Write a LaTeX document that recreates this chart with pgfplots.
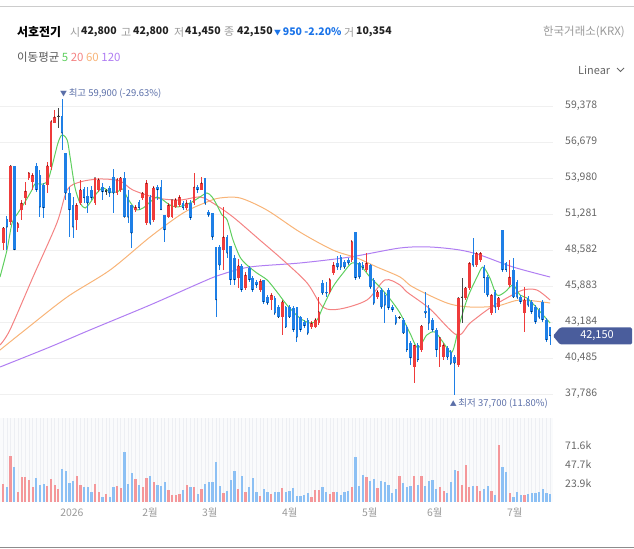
\documentclass[border=0pt]{standalone}
\usepackage{pgfplots}
\pgfplotsset{compat=1.18}
\usepackage{pgfplotstable}
\usepackage{fontspec}
\setmainfont{Noto Sans CJK KR}

\definecolor{upc}{HTML}{EF3B3B}
\definecolor{dnc}{HTML}{1E7FE6}
\definecolor{dojc}{HTML}{444444}
\definecolor{vup}{HTML}{F4979A}
\definecolor{vdn}{HTML}{8CC0F4}
\definecolor{maG}{HTML}{5FCF5F}
\definecolor{maR}{HTML}{F48383}
\definecolor{maO}{HTML}{F8B478}
\definecolor{maP}{HTML}{B07EF2}
\definecolor{gridc}{HTML}{F0F0F0}
\definecolor{tickc}{HTML}{666666}
\definecolor{labc}{HTML}{9A9A9A}
\definecolor{annc}{HTML}{5B6FA8}
\definecolor{boxc}{HTML}{4A5D9C}
\definecolor{chgc}{HTML}{1A73E8}
\definecolor{volbg}{HTML}{FAFBFC}
\definecolor{volgrid}{HTML}{EDEFF3}
\definecolor{numc}{HTML}{222222}

\pgfplotsset{
  wick/.style={only marks, mark=*, mark size=0.1pt, mark options={draw=none, fill=none}, forget plot,
    error bars/y dir=both, error bars/y explicit, error bars/error mark=none,
    error bars/error bar style={line width=1bp, color=#1}},
  cbody/.style={only marks, mark=*, mark size=0.1pt, mark options={draw=none, fill=none}, forget plot,
    error bars/y dir=both, error bars/y explicit, error bars/error mark=none,
    error bars/error bar style={line width=2.7bp, color=#1}},
}

% rising candles (red)
\pgfplotstableread{
i O H L C V
0 49100 50300 48600 50250 22600
2 50700 54900 50450 54900 58100
4 50250 50700 49950 50550 12000
5 51600 52350 50850 52100 31200
6 52500 53700 51950 53000 31200
7 54000 54450 53850 54350 27800
8 53700 54350 53100 54200 18400
12 53450 55200 52850 54900 20500
13 54800 58350 54600 58200 28600
14 58100 59100 58100 58550 21800
20 50850 52100 50100 51950 33300
21 52100 53850 51950 53100 21400
25 52100 54000 51950 54000 22600
26 53100 54000 52950 53850 12000
31 52850 54000 52700 53850 20500
32 53100 54050 52950 54000 17100
36 51600 51950 51450 51800 29000
38 52500 52950 52350 52850 18400
39 50600 53850 50450 53600 30300
41 50850 53400 50700 53250 24800
45 51050 52100 51000 51950 14900
46 51050 52350 51000 52350 8500
47 51800 52500 51750 52350 8500
48 51950 52700 51800 52550 9800
50 51750 52350 51600 52100 21400
52 52100 54350 51950 53300 18400
54 53100 54050 53100 53600 16200
60 48600 51800 47100 49550 10700
64 46500 47900 45750 47400 16200
66 45750 46950 45600 46700 12800
70 45600 46400 45450 46250 7700
73 44850 45350 44100 45200 9800
76 43550 44850 42200 44700 17100
84 42800 43250 42650 43100 6400
85 42800 43500 42750 43350 14900
86 43100 45050 42950 43950 14900
89 45450 46500 45300 46350 9800
90 46850 47700 46700 47450 12800
95 47850 49350 47700 49200 19200
99 47100 48350 46950 47600 31200
102 45050 45600 44900 45450 17100
112 39800 41450 38600 41450 32500
114 41100 42950 40950 42900 33300
119 41300 42050 39800 42000 18400
120 40550 41600 40350 41450 14100
124 39950 45000 39800 45000 38400
126 45000 45800 44850 45750 47000
127 45750 47700 45600 47600 18400
129 47450 48450 47300 48350 20500
130 47850 48450 47700 48350 14100
133 43850 45300 43700 45200 14100
135 44300 45050 44100 45000 71700
138 45950 47850 45800 46550 10700
142 43850 45800 42450 44850 9400
}\upT

% falling candles (blue)
\pgfplotstableread{
i O H L C V
1 50900 51150 48600 50300 19200
3 54900 54900 48600 48600 44000
9 54900 55100 52950 53100 29900
10 54200 54600 51050 51800 21400
11 53450 53600 51000 51750 22600
16 58650 59900 56100 57350 41800
17 55850 55850 52350 52850 38400
18 52850 53300 49550 51600 23900
19 51950 52550 49500 50300 26500
22 53150 53300 52100 52500 18400
23 52650 53300 51350 52100 18800
24 53100 53400 52350 52500 12000
27 53300 53600 52350 52950 6800
29 53250 53400 52550 52850 6400
30 54050 54650 51350 52850 18400
33 54000 54450 51050 51050 62300
34 52550 53100 50600 51050 22600
35 51950 51950 48750 49850 36700
37 52200 52350 51600 51750 21400
40 52550 52700 50450 50600 32500
42 53300 53450 52350 53100 21400
43 53300 53850 51600 51600 20500
44 51200 51200 49200 50100 24800
49 52100 52250 51600 51750 14900
51 52100 52350 50850 51000 18400
53 53300 53450 52850 53100 9800
55 54000 54000 51950 52100 22600
56 51450 51600 51050 51200 24800
57 51350 51350 49350 49550 25200
58 48800 48800 43550 44850 50400
59 48800 48950 47100 47450 20500
61 49550 49700 48000 48350 14100
62 48900 48900 45950 46350 27800
63 48000 48200 45950 46350 38400
65 47400 47550 45450 45600 32500
67 47250 47400 46200 46350 18400
68 46500 46650 45450 45600 30300
69 46200 46350 45750 45950 12800
71 46350 46350 44550 44700 16200
72 45050 45200 44450 44600 12800
74 45000 45150 43700 43850 12800
75 44300 44450 43500 43550 13200
77 44300 44400 42750 42800 12800
78 44300 44450 43500 43550 14100
79 44250 44400 42450 42600 17100
80 44300 44300 41700 42050 7700
81 43550 43650 42450 42600 7700
82 43200 43350 42750 42900 8500
83 43350 43500 42200 42350 10700
87 46100 46350 45200 45350 19200
88 45450 46200 45050 45350 13200
91 47600 48150 47100 47300 13200
92 48050 48200 47100 47300 9000
93 47700 47850 47150 47300 12800
94 47850 48000 47450 47600 14100
96 49950 49950 46350 46500 57200
97 47600 47700 46400 46550 19600
98 47450 47700 47100 47250 34600
100 47450 47550 45650 45800 26900
101 46350 46500 44450 44600 29000
103 45600 45750 44150 44300 26900
104 45200 45450 43100 44450 25600
105 45600 45750 44100 44250 21400
106 44300 44450 43950 44100 11100
107 43550 43700 42950 43100 16200
109 43350 43500 42300 42350 23900
110 42800 42950 40950 41100 18400
111 41600 41750 39950 40500 20500
113 41450 41600 40200 40350 21400
115 44000 45450 43500 43850 20500
116 44250 44450 42600 43100 26900
117 43350 43500 42450 42600 27800
118 42600 42750 40550 41100 16200
121 41250 41400 40350 40550 10700
122 40950 41100 39950 40100 25600
123 40550 40700 37700 40100 39700
128 48200 49500 47300 47450 20500
131 47300 47450 45350 46500 16200
132 46550 46700 45050 45200 20500
134 45450 45600 43850 44300 8500
136 50100 50100 46950 47100 44000
137 47600 47700 46950 47100 37600
139 47100 48000 45000 45050 6400
140 46200 46350 44900 45050 12000
141 45050 45200 44550 44700 9000
143 45000 45150 44300 44450 9800
144 44700 44850 43800 43950 10700
145 44300 44450 43050 43200 11500
146 44100 44250 43400 43550 12000
147 44700 44850 43200 43350 16200
148 43350 43500 41700 41850 11100
149 42800 42800 41450 42150 10354
}\dnT

% unchanged-ish candles (dark)
\pgfplotstableread{
i O H L C V
15 58550 59250 57750 58650 16200
28 53100 53150 52700 52950 9800
108 43550 43650 43400 43500 33300
125 45000 46500 43100 45050 21400
}\djT

\begin{document}
\begin{tikzpicture}
\path[use as bounding box] (0bp,0bp) rectangle (634bp,549bp);
\draw[color=black!20, line width=0.8bp] (0bp,543bp) -- (634bp,543bp);
\draw[color=black!45, line width=0.8bp] (0bp,2bp) -- (634bp,2bp);

% header
\begin{scope}[every node/.style={inner sep=0pt, anchor=west}]
\node at (17bp,517bp) {\fontsize{12}{14}\selectfont\bfseries 서호전기};
\node at (70bp,517bp) {\fontsize{11}{14}\selectfont\color{labc}시};
\node at (81bp,517bp) {\fontsize{10.5}{14}\selectfont\bfseries\color{numc}42,800};
\node at (121bp,517bp) {\fontsize{11}{14}\selectfont\color{labc}고};
\node at (133bp,517bp) {\fontsize{10.5}{14}\selectfont\bfseries\color{numc}42,800};
\node at (174bp,517bp) {\fontsize{11}{14}\selectfont\color{labc}저};
\node at (185bp,517bp) {\fontsize{10.5}{14}\selectfont\bfseries\color{numc}41,450};
\node at (224bp,517bp) {\fontsize{11}{14}\selectfont\color{labc}종};
\node at (237bp,517bp) {\fontsize{10.5}{14}\selectfont\bfseries\color{numc}42,150};
\node at (274bp,517bp) {\fontsize{10.5}{14}\selectfont\bfseries\color{chgc}{\fontsize{7}{9}\selectfont▼}\,950 -2.20\%};
\node at (344bp,517bp) {\fontsize{11}{14}\selectfont\color{labc}거};
\node at (356bp,517bp) {\fontsize{10.5}{14}\selectfont\bfseries\color{numc}10,354};
\node[anchor=east] at (625bp,517bp) {\fontsize{11.5}{14}\selectfont\color{labc}한국거래소(KRX)};
\node at (17bp,492bp) {\fontsize{11.5}{14}\selectfont\color{black!65}이동평균\ \color{maG}5\ \color{maR}20\ \color{maO}60\ \color{maP}120};
\node at (578bp,479bp) {\fontsize{11}{13}\selectfont\color{black!60}Linear};
\node at (60bp,455bp) {\fontsize{9.5}{11}\selectfont\color{annc}{\fontsize{7}{9}\selectfont▼}\,최고 59,900 (-29.63\%)};
\node[anchor=east] at (548bp,145bp) {\fontsize{9.5}{11}\selectfont\color{annc}{\fontsize{7}{9}\selectfont▲}\,최저 37,700 (11.80\%)};
\node at (17bp,117bp) {\fontsize{11}{13}\selectfont\color{black!75}?VOLUME? \bfseries\color{numc}10,354};
\end{scope}
\draw[color=black!60, line width=0.9bp] (617bp,481bp) -- (620.5bp,477.5bp) -- (624bp,481bp);

% price panel
\begin{axis}[
  at={(0bp,137bp)}, anchor=south west, scale only axis,
  width=553bp, height=324bp,
  xmin=-0.9, xmax=149.8, ymin=36437, ymax=60728,
  clip=false, scaled y ticks=false, scaled x ticks=false,
  axis line style={draw=none}, tick style={draw=none},
  major tick length=0pt,
  xtick=\empty,
  ytick={37786,40485,43184,45883,48582,51281,53980,56679,59378},
  yticklabels={{37,786},{40,485},{43,184},{45,883},{48,582},{51,281},{53,980},{56,679},{59,378}},
  yticklabel pos=right,
  yticklabel style={anchor=west, xshift=12bp, inner sep=0pt, font=\fontsize{10.5}{12}\selectfont, color=tickc},
  ymajorgrids, grid style={color=gridc, line width=0.8bp},
]
\addplot[maP, line width=1bp, smooth] coordinates {
(-0.9,39810) (12.7,41309) (23.6,42584) (40.0,44458) (53.6,46108) (59.0,46708) (67.2,47308)
(80.8,47607) (94.5,48057) (108.1,48732) (116.3,48807) (124.4,48582) (129.9,48207) (138.9,47308) (149.0,46558)};
\addplot[maO, line width=1bp, smooth] coordinates {
(-0.9,41084) (5.9,42584) (17.4,45058) (29.1,47083) (40.0,49557) (49.0,51356) (55.5,52181)
(59.0,52481) (64.5,52481) (71.8,51581) (80.8,49931) (89.8,48582) (96.4,47982) (101.8,47308)
(108.1,46558) (111.6,45808) (120.9,44608) (127.2,44308) (134.5,44383) (140.8,44833) (149.0,44608)};
\addplot[maR, line width=1bp, smooth] coordinates {
(-0.9,41459) (1.8,42584) (8.1,46558) (14.6,50606) (17.4,53081) (20.9,53680) (26.3,53905)
(31.8,53755) (35.3,53081) (41.9,52481) (48.1,52331) (53.6,52556) (57.1,52106) (62.6,51056)
(69.9,49332) (76.2,47832) (82.8,46108) (87.1,44308) (91.7,44158) (99.1,44833) (104.0,46333)
(108.1,45958) (110.0,45433) (116.3,44158) (123.6,42209) (127.2,43109) (132.6,44233)
(137.2,44983) (141.6,45583) (145.4,45583) (149.0,44833)};
\addplot[maG, line width=1bp, smooth] coordinates {
(-0.9,46558) (1.0,48582) (2.4,50606) (4.0,51356) (5.9,52181) (7.8,53081) (8.6,53530)
(10.8,53530) (12.2,53830) (13.5,55105) (14.9,56604) (16.0,57204) (17.4,56829) (18.2,55554)
(19.5,53306) (20.9,52106) (22.3,51731) (23.6,52106) (25.5,52856) (27.2,53231) (29.1,52931)
(31.0,52931) (32.6,53156) (33.7,52556) (35.1,51956) (36.4,51581) (38.1,51731) (40.0,52181)
(41.9,52556) (43.5,52331) (45.4,51956) (47.3,51806) (49.5,51956) (51.4,52181) (53.6,52556)
(55.5,52856) (56.9,52556) (58.2,51956) (59.6,51206) (61.0,50831) (62.6,49332) (64.5,48057)
(66.4,47457) (69.1,46858) (71.9,46333) (74.6,45433) (77.3,44458) (80.8,43483) (83.6,43109)
(85.5,43333) (87.1,44308) (89.8,45808) (92.6,46858) (95.0,47607) (97.2,47457) (99.9,46558)
(102.6,45808) (105.4,44908) (108.1,43858) (110.8,42359) (113.0,41234) (115.4,42209)
(117.6,42434) (119.8,41684) (122.3,40934) (124.4,43109) (126.6,45058) (129.1,46558)
(130.7,47308) (132.6,46483) (134.5,45208) (136.7,45433) (138.9,45958) (140.8,45208)
(142.7,44983) (145.4,44233) (149.0,43109)};

\addplot[wick=upc] table[x=i, y=C, y error plus expr=\thisrow{H}-\thisrow{C}, y error minus expr=\thisrow{C}-\thisrow{L}] {\upT};
\addplot[wick=dnc] table[x=i, y=C, y error plus expr=\thisrow{H}-\thisrow{C}, y error minus expr=\thisrow{C}-\thisrow{L}] {\dnT};
\addplot[wick=dojc] table[x=i, y=C, y error plus expr=\thisrow{H}-\thisrow{C}, y error minus expr=\thisrow{C}-\thisrow{L}] {\djT};
\addplot[cbody=upc] table[x=i, y=C, y error plus expr=0, y error minus expr=\thisrow{C}-\thisrow{O}] {\upT};
\addplot[cbody=dnc] table[x=i, y=C, y error plus expr=\thisrow{O}-\thisrow{C}, y error minus expr=0] {\dnT};
\addplot[cbody=dojc] table[x=i, y=C, y error plus expr={max(\thisrow{O},\thisrow{C})-\thisrow{C}}, y error minus expr={\thisrow{C}-min(\thisrow{O},\thisrow{C})}] {\djT};
\end{axis}

% price tag
\fill[boxc, rounded corners=1.5bp] (553bp,213bp) -- (560bp,221.5bp) -- (632bp,221.5bp) -- (632bp,204.5bp) -- (560bp,204.5bp) -- cycle;
\node[inner sep=0pt, text=white] at (597bp,213bp) {\fontsize{11}{13}\selectfont 42,150};

% volume panel
\begin{axis}[
  at={(0bp,47bp)}, anchor=south west, scale only axis,
  width=553bp, height=84bp,
  xmin=-0.9, xmax=149.8, ymin=0, ymax=105700,
  scaled y ticks=false, scaled x ticks=false,
  axis background/.style={fill=volbg},
  axis line style={draw=none}, tick style={draw=none},
  major tick length=0pt, minor tick length=0pt,
  xtick={18.7,40,56.3,78.1,99.9,117.6,139.4},
  xticklabels={2026,2월,3월,4월,5월,6월,7월},
  xticklabel style={anchor=center, yshift=-11bp, inner sep=0pt, font=\fontsize{10.5}{12}\selectfont, color=labc},
  minor xtick={0,...,149}, xminorgrids,
  minor grid style={color=volgrid, line width=0.7bp},
  ytick={23900,47700,71600},
  yticklabels={23.9k,47.7k,71.6k},
  yticklabel pos=right,
  yticklabel style={anchor=west, xshift=12bp, inner sep=0pt, font=\fontsize{10.5}{12}\selectfont, color=tickc},
]
\addplot[ycomb, line width=2.3bp, color=vup, forget plot] table[x=i, y=V] {\upT};
\addplot[ycomb, line width=2.3bp, color=vup, forget plot] table[x=i, y=V] {\djT};
\addplot[ycomb, line width=2.3bp, color=vdn, forget plot] table[x=i, y=V] {\dnT};
\end{axis}
\end{tikzpicture}
\end{document}
